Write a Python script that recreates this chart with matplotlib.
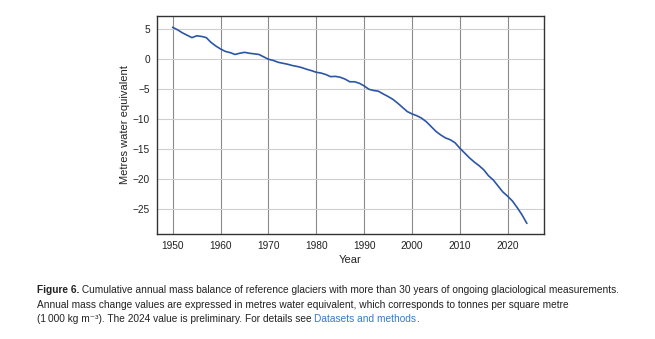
import matplotlib
matplotlib.use("Agg")
import matplotlib.pyplot as plt
import numpy as np

# cumulative mass balance, metres water equivalent
years = list(range(1950, 2025))
balance = [
    5.3, 4.9, 4.4, 4.0, 3.6, 3.9, 3.8, 3.6, 2.8, 2.2,
    1.7, 1.3, 1.1, 0.8, 1.0, 1.15, 1.0, 0.9, 0.8, 0.4,
    0.0, -0.2, -0.5, -0.67, -0.83, -1.05, -1.2, -1.4, -1.67, -1.9,
    -2.17, -2.3, -2.55, -2.9, -2.85, -3.0, -3.3, -3.75, -3.75, -4.0,
    -4.44, -5.0, -5.2, -5.33, -5.78, -6.2, -6.67, -7.3, -8.0, -8.7,
    -9.1, -9.4, -9.8, -10.4, -11.2, -12.0, -12.6, -13.1, -13.4, -13.9,
    -14.8, -15.6, -16.4, -17.1, -17.7, -18.4, -19.4, -20.1, -21.1, -22.1,
    -22.8, -23.6, -24.7, -25.9, -27.3,
]
x_ticks = [1950, 1960, 1970, 1980, 1990, 2000, 2010, 2020]
y_ticks = [5, 0, -5, -10, -15, -20, -25]

caption_lines = [
    [("Figure 6.", "bold", "#222222"),
     (" Cumulative annual mass balance of reference glaciers with more than 30 years of ongoing glaciological measurements.", "normal", "#222222")],
    [("Annual mass change values are expressed in metres water equivalent, which corresponds to tonnes per square metre", "normal", "#222222")],
    [("(1\u2009000 kg m\u207b\u00b3). The 2024 value is preliminary. For details see ", "normal", "#222222"),
     ("Datasets and methods", "normal", "#3a78c9"),
     (".", "normal", "#222222")],
]

plt.rcParams['font.family'] = ['Liberation Sans', 'DejaVu Sans']
cap_font = ['Liberation Sans Narrow', 'Liberation Sans', 'DejaVu Sans']

fig = plt.figure(figsize=(6.55, 3.39), dpi=100)
ax = fig.add_axes([0.2397, 0.3097, 0.8305 - 0.2397, 0.9528 - 0.3097])

ax.plot(years, balance, color="#2b56a5", lw=1.2, zorder=3)

ax.set_xlim(1946.7, 2027.6)
ax.set_ylim(-29.1, 7.2)
ax.set_xticks(x_ticks)
ax.set_yticks(y_ticks)
ax.set_yticklabels([str(v).replace("-", "\u2212") for v in y_ticks])
ax.tick_params(length=0, pad=5, labelsize=7.3, colors="#222222")

ax.grid(axis="x", color="#8a8a8a", lw=0.8)
ax.grid(axis="y", color="#cfcfcf", lw=0.8)
ax.set_axisbelow(True)
for s in ax.spines.values():
    s.set_color("#333333")
    s.set_linewidth(1.0)

ax.set_xlabel("Year", fontsize=8, color="#222222", labelpad=3)
ax.set_ylabel("Metres water equivalent", fontsize=8, color="#222222", labelpad=2)

# caption, drawn piece by piece so styles can change mid-line
renderer = fig.canvas.get_renderer()
x0 = 37 / 655
line_y = [293, 307.5, 322]
for pieces, yp in zip(caption_lines, line_y):
    x = x0
    for txt, weight, color in pieces:
        t = fig.text(x, 1 - yp / 339, txt, fontsize=7.3, fontweight=weight,
                     color=color, family=cap_font, va="baseline", ha="left")
        bb = t.get_window_extent(renderer)
        x += bb.width / fig.bbox.width

fig.savefig("out.png", dpi=100)
